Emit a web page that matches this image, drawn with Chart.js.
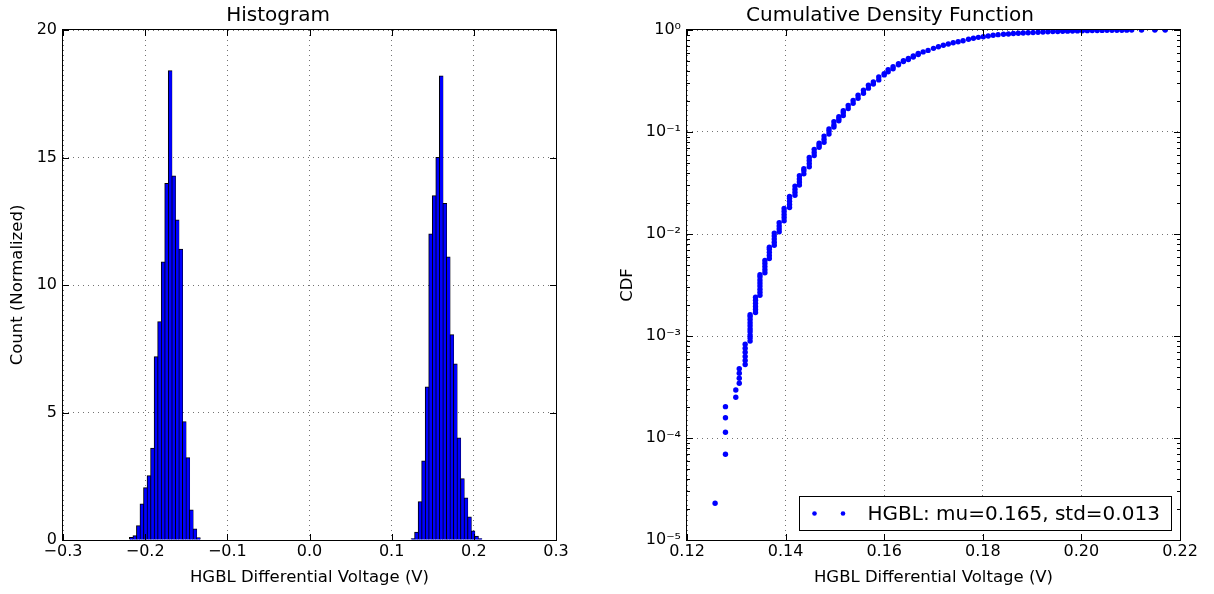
<!DOCTYPE html>
<html lang="en">
<head>
<meta charset="UTF-8">
<title>HGBL Histogram / CDF</title>
<script src="https://cdn.jsdelivr.net/npm/chart.js@4.4.1/dist/chart.umd.min.js"></script>
<style>
    html, body { margin: 0; padding: 0; background: #fff; }
    body { width: 1214px; height: 594px; position: relative; overflow: hidden; }
    .panel { position: absolute; top: 0; height: 594px; }
    #histPanel { left: 0; width: 600px; }
    #cdfPanel { left: 600px; width: 614px; }
</style>
</head>
<body>
<div class="panel" id="histPanel"><canvas id="histChart" width="600" height="594"></canvas></div>
<div class="panel" id="cdfPanel"><canvas id="cdfChart" width="614" height="594"></canvas></div>

<script>
// --- histogram data (bin centres in V, normalized counts) ---
const histBins = [
    -0.2169, -0.2126, -0.2083, -0.2040, -0.1997, -0.1954, -0.1911, -0.1868, -0.1825, -0.1782,
    -0.1739, -0.1696, -0.1653, -0.1610, -0.1567, -0.1524, -0.1481, -0.1438, -0.1395, -0.1352,
    0.1259, 0.1302, 0.1345, 0.1388, 0.1431, 0.1474, 0.1517, 0.1560, 0.1603, 0.1646,
    0.1689, 0.1732, 0.1775, 0.1818, 0.1861, 0.1904, 0.1947, 0.1990, 0.2033, 0.2076
];
const histCounts = [
    0.1, 0.17, 0.56, 1.41, 2.05, 2.52, 3.6, 7.19, 8.56, 10.9,
    13.98, 18.4, 14.27, 12.55, 11.4, 4.64, 3.23, 1.18, 0.43, 0.09,
    0.05, 0.3, 1.5, 3.1, 6.0, 12.0, 13.5, 15.0, 18.2, 13.2,
    11.1, 8.05, 6.9, 4.0, 2.4, 1.65, 0.9, 0.35, 0.15, 0.05
];
const histXTicks = [-0.3, -0.2, -0.1, 0, 0.1, 0.2, 0.3];
const histXLabels = ['\u22120.3', '\u22120.2', '\u22120.1', '0.0', '0.1', '0.2', '0.3'];
const histYTicks = [0, 5, 10, 15, 20];
const histYLabels = ['0', '5', '10', '15', '20'];

// --- CDF data (voltage, cumulative probability), one row per vertical stack ---
const cdfVolts = [
    0.1257,
    0.1278, 0.1278, 0.1278, 0.1278,
    0.1299, 0.1299,
    0.1306, 0.1306, 0.1306, 0.1306,
    0.1318, 0.1318, 0.1318, 0.1318, 0.1318, 0.1318,
    0.1328, 0.1328, 0.1328, 0.1328, 0.1328, 0.1328, 0.1328, 0.1328, 0.1328, 0.1328,
    0.1339, 0.1339, 0.1339, 0.1339, 0.1339, 0.1339,
    0.1348, 0.1348, 0.1348, 0.1348, 0.1348, 0.1348, 0.1348, 0.1348,
    0.1358, 0.1358, 0.1358, 0.1358, 0.1358,
    0.1367, 0.1367, 0.1367, 0.1367, 0.1367,
    0.1377, 0.1377, 0.1377, 0.1377, 0.1377,
    0.1387, 0.1387, 0.1387, 0.1387,
    0.1397, 0.1397, 0.1397, 0.1397, 0.1397,
    0.1408, 0.1408, 0.1408, 0.1408, 0.1408,
    0.1419, 0.1419, 0.1419, 0.1419,
    0.1428, 0.1428, 0.1428, 0.1428,
    0.1437, 0.1437, 0.1437,
    0.1448, 0.1448, 0.1448, 0.1448,
    0.1458, 0.1458, 0.1458,
    0.1468, 0.1468, 0.1468,
    0.1478, 0.1478, 0.1478,
    0.1488, 0.1488, 0.1488,
    0.1498, 0.1498, 0.1498,
    0.1508, 0.1508, 0.1508,
    0.1517, 0.1517, 0.1517,
    0.1527, 0.1527,
    0.1537, 0.1537,
    0.1547, 0.1547,
    0.1558, 0.1558,
    0.1568, 0.1568,
    0.1578, 0.1578,
    0.1589, 0.1589,
    0.1600, 0.1600,
    0.1608, 0.1608,
    0.1618, 0.1618,
    0.1629, 0.1629,
    0.1639, 0.1639,
    0.1649, 0.1649,
    0.1659, 0.1659,
    0.1669, 0.1669,
    0.1679, 0.1689, 0.1700, 0.1710, 0.1720, 0.1730, 0.1740, 0.1750, 0.1760, 0.1771,
    0.1781, 0.1791, 0.1801, 0.1811, 0.1821, 0.1831, 0.1842, 0.1852, 0.1862, 0.1872,
    0.1882, 0.1892, 0.1902, 0.1912, 0.1922, 0.1932, 0.1942, 0.1952, 0.1962, 0.1972,
    0.1982, 0.1992, 0.2002, 0.2012, 0.2022, 0.2032, 0.2042, 0.2052, 0.2062, 0.2072,
    0.2082, 0.2092, 0.2102, 0.2122, 0.2149, 0.2170
];
const cdfValues = [
    2.29e-5,
    6.92e-5, 1.14e-4, 1.58e-4, 2.03e-4,
    2.51e-4, 2.96e-4,
    3.44e-4, 3.85e-4, 4.31e-4, 4.78e-4,
    5.25e-4, 5.75e-4, 6.31e-4, 6.92e-4, 7.59e-4, 8.32e-4,
    8.91e-4, 9.55e-4, 1.02e-3, 1.10e-3, 1.17e-3, 1.26e-3, 1.35e-3, 1.45e-3, 1.55e-3, 1.62e-3,
    1.70e-3, 1.82e-3, 1.95e-3, 2.09e-3, 2.24e-3, 2.40e-3,
    2.51e-3, 2.69e-3, 2.88e-3, 3.09e-3, 3.31e-3, 3.55e-3, 3.80e-3, 3.98e-3,
    4.17e-3, 4.47e-3, 4.79e-3, 5.13e-3, 5.50e-3,
    5.75e-3, 6.17e-3, 6.61e-3, 7.08e-3, 7.41e-3,
    7.76e-3, 8.32e-3, 8.91e-3, 9.55e-3, 1.02e-2,
    1.05e-2, 1.12e-2, 1.20e-2, 1.29e-2,
    1.35e-2, 1.45e-2, 1.55e-2, 1.66e-2, 1.78e-2,
    1.82e-2, 1.95e-2, 2.09e-2, 2.24e-2, 2.34e-2,
    2.40e-2, 2.57e-2, 2.75e-2, 2.95e-2,
    3.02e-2, 3.24e-2, 3.47e-2, 3.72e-2,
    3.89e-2, 4.17e-2, 4.37e-2,
    4.57e-2, 4.90e-2, 5.25e-2, 5.62e-2,
    5.89e-2, 6.31e-2, 6.76e-2,
    7.08e-2, 7.41e-2, 7.76e-2,
    7.94e-2, 8.51e-2, 9.12e-2,
    9.55e-2, 0.102, 0.107,
    0.112, 0.117, 0.126,
    0.129, 0.135, 0.141,
    0.145, 0.155, 0.162,
    0.170, 0.182,
    0.191, 0.204,
    0.214, 0.229,
    0.240, 0.257,
    0.269, 0.288,
    0.295, 0.309,
    0.324, 0.347,
    0.363, 0.372,
    0.389, 0.407,
    0.417, 0.437,
    0.457, 0.468,
    0.490, 0.501,
    0.513, 0.525,
    0.543, 0.556,
    0.575, 0.589,
    0.610, 0.631, 0.661, 0.686, 0.708, 0.729, 0.750, 0.767, 0.785, 0.811,
    0.830, 0.847, 0.859, 0.873, 0.887, 0.900, 0.908, 0.914, 0.923, 0.929,
    0.936, 0.940, 0.944, 0.950, 0.955, 0.959, 0.964, 0.968, 0.971, 0.974,
    0.977, 0.980, 0.983, 0.985, 0.987, 0.989, 0.991, 0.992, 0.994, 0.995,
    0.996, 0.997, 0.998, 0.9985, 0.999, 1.0
];
const cdfLabel = 'HGBL: mu=0.165, std=0.013';
const cdfXTicks = [0.12, 0.14, 0.16, 0.18, 0.20, 0.22];
const cdfXLabels = ['0.12', '0.14', '0.16', '0.18', '0.20', '0.22'];
const cdfYTicks = [1e-5, 1e-4, 1e-3, 1e-2, 1e-1, 1];
const cdfYLabels = ['10\u207B\u2075', '10\u207B\u2074', '10\u207B\u00B3', '10\u207B\u00B2', '10\u207B\u00B9', '10\u2070'];

Chart.defaults.font.family = '"DejaVu Sans", sans-serif';
Chart.defaults.font.size = 16;
Chart.defaults.color = '#000';

// matplotlib-style frame with inward ticks on all four sides
const frameTicks = {
    id: 'frameTicks',
    afterDatasetsDraw(chart, args, opts) {
        const { ctx, chartArea: a, scales } = chart;
        const major = 6, minor = 3;
        ctx.save();
        ctx.strokeStyle = '#000';
        ctx.lineWidth = 1;
        ctx.beginPath();
        scales.x.ticks.forEach(t => {
            const px = Math.round(scales.x.getPixelForValue(t.value)) + 0.5;
            ctx.moveTo(px, a.bottom); ctx.lineTo(px, a.bottom - major);
            ctx.moveTo(px, a.top); ctx.lineTo(px, a.top + major);
        });
        const yTick = (v, len) => {
            const py = Math.round(scales.y.getPixelForValue(v)) + 0.5;
            ctx.moveTo(a.left, py); ctx.lineTo(a.left + len, py);
            ctx.moveTo(a.right, py); ctx.lineTo(a.right - len, py);
        };
        const yt = scales.y.ticks.map(t => t.value);
        yt.forEach(v => yTick(v, major));
        if (opts.logMinor) {
            for (let i = 0; i < yt.length - 1; i++) {
                for (let m = 2; m <= 9; m++) yTick(yt[i] * m, minor);
            }
        }
        ctx.stroke();
        ctx.strokeRect(a.left - 0.5, a.top - 0.5, a.right - a.left + 1, a.bottom - a.top + 1);
        ctx.restore();
    }
};

// legend box in the lower right of the CDF axes
const cdfLegend = {
    id: 'cdfLegend',
    afterDraw(chart) {
        const { ctx, chartArea: a } = chart;
        const ds = chart.data.datasets[0];
        ctx.save();
        ctx.font = '20px "DejaVu Sans", sans-serif';
        const tw = ctx.measureText(ds.label).width;
        const w = Math.round(tw + 80), h = 34;
        const x = Math.round(a.right - 9 - w) + 0.5, y = Math.round(a.bottom - 10 - h) + 0.5;
        ctx.fillStyle = '#fff';
        ctx.fillRect(x, y, w, h);
        ctx.strokeStyle = '#000';
        ctx.lineWidth = 1;
        ctx.strokeRect(x, y, w, h);
        ctx.fillStyle = ds.pointBackgroundColor;
        [15, 43.5].forEach(dx => {
            ctx.beginPath();
            ctx.arc(x + dx, y + h / 2, ds.pointRadius - 0.4, 0, Math.PI * 2);
            ctx.fill();
        });
        ctx.fillStyle = '#000';
        ctx.textBaseline = 'middle';
        ctx.fillText(ds.label, x + 68, y + h / 2 + 1);
        ctx.restore();
    }
};

const gridStyle = { color: 'rgba(0,0,0,0.55)', lineWidth: 1, drawTicks: false };
const borderStyle = { display: false, dash: [1, 4] };
const titleFont = { size: 20, weight: 'normal' };
const axisTitleFont = { size: 16.5 };

new Chart(document.getElementById('histChart'), {
    type: 'bar',
    data: {
        datasets: [{
            data: histBins.map((x, i) => ({ x: x, y: histCounts[i] })),
            backgroundColor: '#0000ff',
            borderColor: '#000',
            borderWidth: { top: 1, left: 1, right: 0.5, bottom: 0 },
            borderSkipped: false,
            inflateAmount: 0.5,
            barPercentage: 1,
            categoryPercentage: 1
        }]
    },
    options: {
        responsive: false,
        animation: false,
        layout: { padding: { left: 0, right: 44, top: 0, bottom: 0 } },
        plugins: {
            legend: { display: false },
            tooltip: { enabled: false },
            title: { display: true, text: 'Histogram', font: titleFont, color: '#000', padding: { top: 4, bottom: 2 } }
        },
        scales: {
            x: {
                type: 'linear', min: -0.3, max: 0.3, offset: false,
                grid: Object.assign({ offset: false }, gridStyle), border: borderStyle,
                afterBuildTicks: s => { s.ticks = histXTicks.map(v => ({ value: v })); },
                afterFit: s => { s.height = 54; },
                ticks: { padding: 2, maxRotation: 0, callback: (v, i) => histXLabels[i] },
                title: { display: true, text: 'HGBL Differential Voltage (V)', font: axisTitleFont, padding: { top: 0, bottom: 6 } }
            },
            y: {
                min: 0, max: 20,
                grid: gridStyle, border: borderStyle,
                afterBuildTicks: s => { s.ticks = histYTicks.map(v => ({ value: v })); },
                afterFit: s => { s.width = 63; },
                ticks: { padding: 6, callback: (v, i) => histYLabels[i] },
                title: { display: true, text: 'Count (Normalized)', font: axisTitleFont, padding: { top: 8, bottom: 0 } }
            }
        }
    },
    plugins: [frameTicks]
});

new Chart(document.getElementById('cdfChart'), {
    type: 'scatter',
    data: {
        datasets: [{
            label: cdfLabel,
            data: cdfVolts.map((x, i) => ({ x: x, y: cdfValues[i] })),
            pointRadius: 2.7,
            pointBackgroundColor: '#0000ff',
            pointBorderWidth: 0,
            clip: 0
        }]
    },
    options: {
        responsive: false,
        animation: false,
        layout: { padding: { left: 0, right: 34, top: 0, bottom: 0 } },
        plugins: {
            legend: { display: false },
            tooltip: { enabled: false },
            title: { display: true, text: 'Cumulative Density Function', font: titleFont, color: '#000', padding: { top: 4, bottom: 2 } },
            frameTicks: { logMinor: true }
        },
        scales: {
            x: {
                type: 'linear', min: 0.12, max: 0.22,
                grid: gridStyle, border: borderStyle,
                afterBuildTicks: s => { s.ticks = cdfXTicks.map(v => ({ value: v })); },
                afterFit: s => { s.height = 54; },
                ticks: { padding: 2, maxRotation: 0, callback: (v, i) => cdfXLabels[i] },
                title: { display: true, text: 'HGBL Differential Voltage (V)', font: axisTitleFont, padding: { top: 0, bottom: 6 } }
            },
            y: {
                type: 'logarithmic', min: 1e-5, max: 1,
                grid: gridStyle, border: borderStyle,
                afterBuildTicks: s => { s.ticks = cdfYTicks.map(v => ({ value: v, major: true })); },
                afterFit: s => { s.width = 87; },
                ticks: { padding: 6, callback: (v, i) => cdfYLabels[i] },
                title: { display: true, text: 'CDF', font: axisTitleFont, padding: { top: 18, bottom: 0 } }
            }
        }
    },
    plugins: [frameTicks, cdfLegend]
});
</script>
</body>
</html>
